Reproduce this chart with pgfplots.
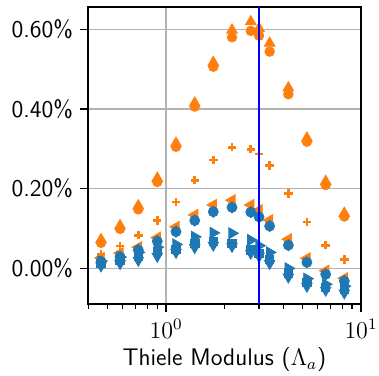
\documentclass[border=0pt]{standalone}
\usepackage{pgfplots}
\pgfplotsset{compat=1.18}
\definecolor{mplorange}{HTML}{FF7F0E}
\definecolor{mplblue}{HTML}{1F77B4}
\begin{document}
\begin{tikzpicture}
\begin{axis}[
  scale only axis,
  width=136.5pt, height=148.5pt,
  xmode=log,
  xmin=0.398, xmax=10,
  ymin=-0.0896, ymax=0.656,
  ytick={0,0.2,0.4,0.6},
  yticklabel={\sffamily\pgfmathprintnumber[fixed,fixed zerofill,precision=2,assume math mode=true]{\tick}\%},
  xtick={1,10},
  xticklabels={$10^{0}$,$10^{1}$},
  minor xtick={0.4,0.5,0.6,0.7,0.8,0.9,2,3,4,5,6,7,8,9},
  grid=major,
  major grid style={color=black!30, line width=0.7pt},
  tick align=outside,
  tick pos=left,
  major tick length=4pt,
  minor tick length=2.3pt,
  every tick/.style={black, line width=0.6pt},
  axis line style={black, line width=0.8pt},
  tick label style={font=\fontsize{12}{14}\selectfont},
  label style={font=\fontsize{12}{14}\selectfont},
  xlabel={\sffamily Thiele Modulus ($\Lambda_a$)},
  xlabel style={yshift=2pt},
  clip marker paths=true,
]
% orange triangle-up
\addplot[only marks, mark=triangle*, mark size=3.1pt, color=mplorange] coordinates {
(0.464,0.072)(0.581,0.107)(0.721,0.157)(0.902,0.226)(1.125,0.314)(1.403,0.415)(1.748,0.517)(2.18,0.598)(2.72,0.619)(3.0,0.602)(3.40,0.565)(4.24,0.453)(5.28,0.327)(6.59,0.218)(8.21,0.138)};
% orange circles
\addplot[only marks, mark=*, mark size=2.4pt, color=mplorange] coordinates {
(0.464,0.064)(0.581,0.099)(0.721,0.148)(0.902,0.217)(1.125,0.305)(1.403,0.406)(1.748,0.506)(2.18,0.580)(2.72,0.596)(3.0,0.584)(3.40,0.544)(4.24,0.437)(5.28,0.318)(6.59,0.209)(8.21,0.130)};
% orange plus
\addplot[only marks, mark=+, mark size=2.1pt, color=mplorange, mark options={line width=1.3pt}] coordinates {
(0.464,0.036)(0.581,0.056)(0.721,0.083)(0.902,0.120)(1.125,0.166)(1.403,0.221)(1.748,0.272)(2.18,0.304)(2.72,0.299)(3.0,0.287)(3.40,0.258)(4.24,0.188)(5.28,0.116)(6.59,0.058)(8.21,0.022)};
% orange triangle-left
\addplot[only marks, mark=triangle*, mark size=3.2pt, color=mplorange, mark options={rotate=90}] coordinates {
(0.464,0.026)(0.581,0.038)(0.721,0.053)(0.902,0.077)(1.125,0.104)(1.403,0.134)(1.748,0.159)(2.18,0.171)(2.72,0.159)(3.0,0.146)(3.40,0.121)(4.24,0.073)(5.28,0.025)(6.59,-0.006)(8.21,-0.025)};
% blue circles
\addplot[only marks, mark=*, mark size=2.5pt, color=mplblue] coordinates {
(0.464,0.017)(0.581,0.029)(0.721,0.046)(0.902,0.068)(1.125,0.092)(1.403,0.120)(1.748,0.142)(2.18,0.153)(2.72,0.141)(3.0,0.129)(3.40,0.106)(4.24,0.058)(5.28,0.015)(6.59,-0.015)(8.21,-0.032)};
\addplot[only marks, mark=diamond*, mark size=2.8pt, color=mplblue] coordinates {
(0.464,0.017)(0.581,0.029)(0.721,0.046)(0.902,0.068)(1.125,0.092)(1.403,0.120)(1.748,0.142)(2.18,0.153)(2.72,0.141)(3.0,0.129)(3.40,0.106)(4.24,0.058)(5.28,0.015)(6.59,-0.015)(8.21,-0.032)};
% blue triangle-right
\addplot[only marks, mark=triangle*, mark size=3.2pt, color=mplblue, mark options={rotate=-90}] coordinates {
(0.464,0.018)(0.581,0.028)(0.721,0.040)(0.902,0.053)(1.125,0.060)(1.403,0.079)(1.748,0.089)(2.18,0.088)(2.72,0.071)(3.0,0.057)(3.40,0.040)(4.24,0.000)(5.28,-0.026)(6.59,-0.040)(8.21,-0.045)};
% blue squares
\addplot[only marks, mark=square*, mark size=2.1pt, color=mplblue] coordinates {
(0.464,0.012)(0.581,0.020)(0.721,0.030)(0.902,0.042)(1.125,0.047)(1.403,0.062)(1.748,0.067)(2.18,0.063)(2.72,0.046)(3.0,0.037)(3.40,0.022)(4.24,-0.012)(5.28,-0.036)(6.59,-0.048)(8.21,-0.052)};
% blue triangle-down
\addplot[only marks, mark=triangle*, mark size=3pt, color=mplblue, mark options={rotate=180}] coordinates {
(0.464,0.006)(0.581,0.012)(0.721,0.020)(0.902,0.030)(1.125,0.040)(1.403,0.052)(1.748,0.058)(2.18,0.055)(2.72,0.038)(3.0,0.030)(3.40,0.012)(4.24,-0.022)(5.28,-0.045)(6.59,-0.055)(8.21,-0.062)};
% vertical line
\addplot[color=blue, line width=1pt] coordinates {(3,-0.0896)(3,0.656)};
\end{axis}
\pgfresetboundingbox
\path ([xshift=-44pt,yshift=-35.5pt]current axis.south west) rectangle ([xshift=9pt,yshift=3.5pt]current axis.north east);
\end{tikzpicture}
\end{document}
